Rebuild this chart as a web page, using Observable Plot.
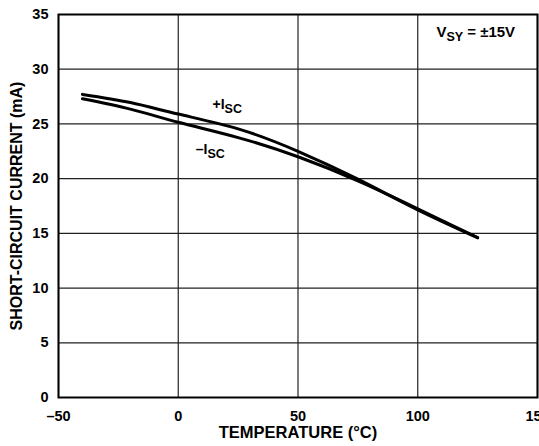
<!DOCTYPE html>
<html><head><meta charset="utf-8">
<script src="https://cdn.jsdelivr.net/npm/d3@7"></script>
<script src="https://cdn.jsdelivr.net/npm/@observablehq/plot@0.6"></script>
<style>body{margin:0;background:#fff} svg{display:block}</style>
</head><body><div id="chart"></div><script>
// Data
const temps    = [-40, -20, 0, 25, 50, 75, 100, 125];
const plusIsc  = [27.7, 26.95, 25.9, 24.55, 22.5, 19.95, 17.15, 14.6];
const minusIsc = [27.3, 26.35, 25.15, 23.75, 22.0, 19.8, 17.25, 14.6];
const xTicks = [-50, 0, 50, 100, 150];
const yTicks = [0, 5, 10, 15, 20, 25, 30, 35];
const xLabel = "TEMPERATURE (°C)";
const yLabel = "SHORT-CIRCUIT CURRENT (mA)";
// Annotations: position in data units, main text, subscript, trailing text
const annX    = [108, 14.5, 7.5];
const annY    = [32.86, 26.3, 22.2];
const annPre  = ["V", "+I", "–I"];
const annSub  = ["SY", "SC", "SC"];
const annPost = [" = ±15V", "", ""];
const annSize = [15, 14, 14];

const rows = temps.flatMap((t, i) => [
  {t, v: plusIsc[i], s: "+ISC"},
  {t, v: minusIsc[i], s: "-ISC"}
]);

const font = "'Liberation Sans', Arial, Helvetica, sans-serif";
const plot = Plot.plot({
  width: 539, height: 446,
  marginLeft: 58, marginTop: 14, marginRight: 2, marginBottom: 49,
  style: {fontFamily: font, fontWeight: "bold", fontSize: "14.5px", background: "#fff", color: "#000", overflow: "visible"},
  x: {domain: [-50, 150]},
  y: {domain: [0, 35]},
  marks: [
    Plot.gridX(xTicks, {stroke: "#222", strokeOpacity: 1, strokeWidth: 1.2}),
    Plot.gridY(yTicks, {stroke: "#222", strokeOpacity: 1, strokeWidth: 1.2}),
    Plot.axisX(xTicks, {tickSize: 0, tickPadding: 13, label: null, tickFormat: d => d < 0 ? "–" + (-d) : String(d)}),
    Plot.axisY(yTicks, {tickSize: 0, tickPadding: 10, label: null}),
    Plot.line(rows, {x: "t", y: "v", z: "s", stroke: "#000", strokeWidth: 3, curve: "natural"}),
    Plot.frame({stroke: "#000", strokeWidth: 2}),
    Plot.text([xLabel], {frameAnchor: "bottom", dy: 40, fontSize: 16.5, fontWeight: "bold", fill: "#000"}),
    Plot.text([yLabel], {frameAnchor: "left", textAnchor: "middle", rotate: -90, dx: -42, fontSize: 16, fontWeight: "bold", fill: "#000"})
  ]
});

const svgEl = plot.tagName.toLowerCase() === "svg" ? plot : plot.querySelector("svg");
const sx = plot.scale("x"), sy = plot.scale("y");
const g = d3.select(svgEl).append("g")
  .attr("font-family", font).attr("font-weight", "bold").attr("fill", "#000")
  .attr("text-anchor", "start");
annX.forEach((x, i) => {
  const t = g.append("text")
    .attr("x", sx.apply(x)).attr("y", sy.apply(annY[i]))
    .attr("text-anchor", "start")
    .attr("font-size", annSize[i]);
  t.append("tspan").text(annPre[i]);
  t.append("tspan").attr("font-size", 12.5).attr("dy", 4).text(annSub[i]);
  if (annPost[i]) t.append("tspan").attr("dy", -4).text(annPost[i]);
});

document.getElementById("chart").appendChild(plot);
</script></body></html>
